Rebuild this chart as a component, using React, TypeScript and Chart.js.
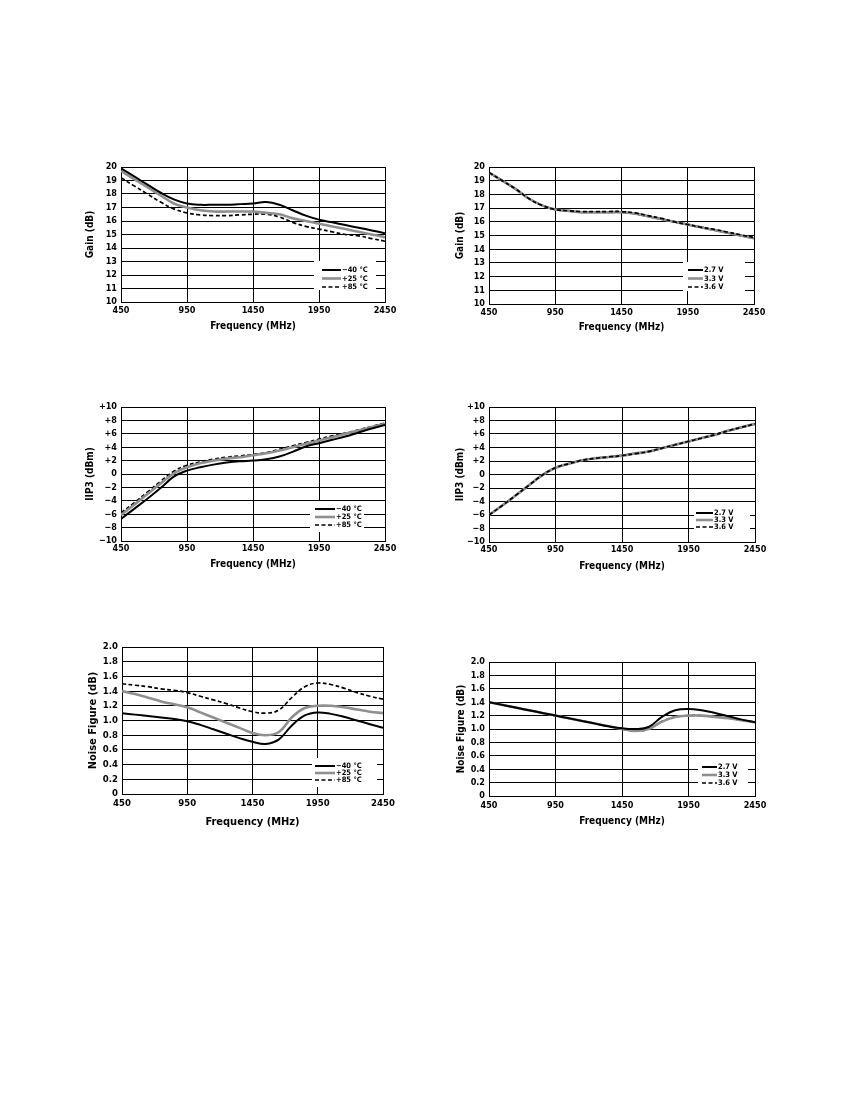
import React, { useEffect, useRef } from "react";
import { Chart, registerables } from "chart.js";

Chart.register(...registerables);

// ---------- data ----------
const FREQ_MHZ = [450, 550, 650, 750, 850, 950, 1050, 1150, 1250, 1350, 1450, 1550, 1650, 1750, 1850, 1950, 2050, 2150, 2250, 2350, 2450];
const FREQ_TICKS = [450, 950, 1450, 1950, 2450];
const GAIN_TICKS = [10, 11, 12, 13, 14, 15, 16, 17, 18, 19, 20];
const IIP3_TICKS = [-10, -8, -6, -4, -2, 0, 2, 4, 6, 8, 10];
const NF_TICKS = [0, 0.2, 0.4, 0.6, 0.8, 1.0, 1.2, 1.4, 1.6, 1.8, 2.0];

const TEMP_LABELS = ["\u221240 \u00B0C", "+25 \u00B0C", "+85 \u00B0C"];
const VOLT_LABELS = ["2.7 V", "3.3 V", "3.6 V"];

const GAIN_TEMP_M40 = [19.9, 19.3, 18.7, 18.1, 17.6, 17.3, 17.2, 17.2, 17.2, 17.25, 17.3, 17.4, 17.2, 16.8, 16.4, 16.1, 15.9, 15.7, 15.5, 15.3, 15.1];
const GAIN_TEMP_P25 = [19.7, 19.1, 18.5, 17.9, 17.3, 17.0, 16.8, 16.7, 16.7, 16.7, 16.7, 16.6, 16.5, 16.2, 16.0, 15.8, 15.6, 15.4, 15.2, 15.0, 14.8];
const GAIN_TEMP_P85 = [19.2, 18.6, 18.0, 17.4, 16.9, 16.6, 16.45, 16.4, 16.4, 16.45, 16.5, 16.5, 16.3, 15.9, 15.6, 15.4, 15.2, 15.0, 14.9, 14.7, 14.5];

const GAIN_VOLT_27 = [19.6, 19.0, 18.4, 17.7, 17.2, 16.9, 16.8, 16.7, 16.7, 16.7, 16.7, 16.6, 16.4, 16.2, 16.0, 15.8, 15.6, 15.4, 15.2, 15.0, 14.8];
const GAIN_VOLT_33 = [19.6, 19.0, 18.4, 17.7, 17.2, 16.9, 16.8, 16.7, 16.7, 16.7, 16.7, 16.6, 16.4, 16.2, 16.0, 15.8, 15.6, 15.4, 15.2, 15.0, 14.8];
const GAIN_VOLT_36 = [19.6, 19.0, 18.4, 17.7, 17.2, 16.9, 16.8, 16.75, 16.75, 16.75, 16.75, 16.65, 16.45, 16.25, 16.0, 15.8, 15.6, 15.45, 15.25, 15.05, 14.85];

const IIP3_TEMP_M40 = [-6.7, -5.2, -3.7, -2.1, -0.4, 0.5, 1.0, 1.4, 1.7, 1.9, 2.0, 2.2, 2.6, 3.3, 4.1, 4.6, 5.1, 5.6, 6.2, 6.8, 7.3];
const IIP3_TEMP_P25 = [-6.1, -4.6, -3.0, -1.4, 0.1, 1.0, 1.6, 2.0, 2.3, 2.5, 2.8, 3.1, 3.5, 4.0, 4.5, 5.0, 5.5, 6.0, 6.5, 7.0, 7.5];
const IIP3_TEMP_P85 = [-5.8, -4.3, -2.7, -1.1, 0.4, 1.3, 1.8, 2.2, 2.5, 2.7, 2.9, 3.2, 3.7, 4.2, 4.7, 5.2, 5.7, 6.1, 6.6, 7.1, 7.6];

const IIP3_VOLT_27 = [-6.0, -4.6, -3.1, -1.6, -0.1, 1.0, 1.6, 2.1, 2.4, 2.6, 2.8, 3.1, 3.4, 3.9, 4.4, 4.9, 5.4, 5.9, 6.5, 7.0, 7.5];
const IIP3_VOLT_33 = [-6.0, -4.6, -3.1, -1.6, -0.1, 1.0, 1.6, 2.1, 2.4, 2.6, 2.8, 3.1, 3.4, 3.9, 4.4, 4.9, 5.4, 5.9, 6.5, 7.0, 7.5];
const IIP3_VOLT_36 = [-6.0, -4.6, -3.1, -1.6, -0.1, 1.0, 1.6, 2.1, 2.4, 2.6, 2.8, 3.1, 3.4, 3.9, 4.4, 4.9, 5.4, 5.9, 6.5, 7.0, 7.5];

const NF_TEMP_M40 = [1.10, 1.08, 1.06, 1.04, 1.02, 0.99, 0.94, 0.88, 0.82, 0.76, 0.71, 0.68, 0.74, 0.93, 1.07, 1.11, 1.09, 1.05, 1.00, 0.95, 0.90];
const NF_TEMP_P25 = [1.40, 1.36, 1.31, 1.26, 1.22, 1.18, 1.11, 1.04, 0.97, 0.90, 0.83, 0.80, 0.84, 1.04, 1.17, 1.20, 1.20, 1.18, 1.15, 1.12, 1.10];
const NF_TEMP_P85 = [1.50, 1.48, 1.46, 1.43, 1.41, 1.38, 1.33, 1.28, 1.23, 1.17, 1.12, 1.10, 1.14, 1.31, 1.46, 1.51, 1.49, 1.44, 1.38, 1.33, 1.29];

const NF_VOLT_27 = [1.40, 1.36, 1.32, 1.28, 1.24, 1.20, 1.16, 1.12, 1.08, 1.04, 1.01, 1.00, 1.03, 1.18, 1.28, 1.30, 1.28, 1.24, 1.19, 1.14, 1.10];
const NF_VOLT_33 = [1.40, 1.36, 1.32, 1.28, 1.24, 1.20, 1.16, 1.12, 1.08, 1.04, 1.00, 0.97, 1.00, 1.11, 1.18, 1.20, 1.20, 1.18, 1.16, 1.13, 1.10];
const NF_VOLT_36 = [1.40, 1.36, 1.32, 1.28, 1.24, 1.20, 1.16, 1.12, 1.08, 1.04, 1.00, 0.97, 1.00, 1.11, 1.18, 1.20, 1.20, 1.18, 1.16, 1.13, 1.10];

// ---------- styling ----------
const FONT_FAMILY = '"Liberation Sans Narrow", "DejaVu Sans Condensed", "Arial Narrow", sans-serif';
const Y_AXIS_W = 50;
const X_AXIS_H = 44;
const PAD_TOP = 12;
const PAD_RIGHT = 24;

type Style = { color: string; width: number; dash: number[] };
const SOLID_BLACK: Style = { color: "#000000", width: 2, dash: [] };
const SOLID_GRAY: Style = { color: "#8f8f8f", width: 2.6, dash: [] };
const DASHED_BLACK: Style = { color: "#000000", width: 1.7, dash: [4, 2.5] };
const STYLES = [SOLID_BLACK, SOLID_GRAY, DASHED_BLACK];

type PanelCfg = {
  L: number; T: number; R: number; B: number;
  yTicks: number[];
  yFmt: (v: number) => string;
  yTitle: string;
  yTitleX: number; xTitleY: number;
  tickSize: number; titleSize: number; xTickPad: number;
  labels: string[];
  series: number[][];
  order: number[];
  legendBox: [number, number, number, number];
  legendLine: [number, number];
  legendRows: number[];
  legendSize: number;
};

const fmtInt = (v: number) => String(v);
const fmtSigned = (v: number) => (v > 0 ? "+" + v : v < 0 ? "\u2212" + Math.abs(v) : "0");
const fmtNF = (v: number) => (Math.abs(v) < 1e-9 ? "0" : v.toFixed(1));

const PANELS: PanelCfg[] = [
  {
    L: 121, T: 167, R: 385, B: 302, yTicks: GAIN_TICKS, yFmt: fmtInt, yTitle: "Gain (dB)",
    yTitleX: 90, xTitleY: 326, tickSize: 9, titleSize: 10, xTickPad: 3,
    labels: TEMP_LABELS, series: [GAIN_TEMP_M40, GAIN_TEMP_P25, GAIN_TEMP_P85], order: [0, 1, 2],
    legendBox: [314, 261, 376, 290], legendLine: [322, 341], legendRows: [270, 278.5, 287], legendSize: 7.5,
  },
  {
    L: 489, T: 167, R: 754, B: 304, yTicks: GAIN_TICKS, yFmt: fmtInt, yTitle: "Gain (dB)",
    yTitleX: 460, xTitleY: 327, tickSize: 9, titleSize: 10, xTickPad: 3,
    labels: VOLT_LABELS, series: [GAIN_VOLT_27, GAIN_VOLT_33, GAIN_VOLT_36], order: [2, 1, 0],
    legendBox: [683, 262, 745, 291], legendLine: [688, 703], legendRows: [270, 278.5, 287], legendSize: 7.5,
  },
  {
    L: 121, T: 407, R: 385, B: 541, yTicks: IIP3_TICKS, yFmt: fmtSigned, yTitle: "IIP3 (dBm)",
    yTitleX: 90, xTitleY: 564, tickSize: 9, titleSize: 10, xTickPad: 2,
    labels: TEMP_LABELS, series: [IIP3_TEMP_M40, IIP3_TEMP_P25, IIP3_TEMP_P85], order: [0, 1, 2],
    legendBox: [310, 501, 364, 532], legendLine: [315, 335], legendRows: [509, 517, 525], legendSize: 7.5,
  },
  {
    L: 489, T: 407, R: 755, B: 542, yTicks: IIP3_TICKS, yFmt: fmtSigned, yTitle: "IIP3 (dBm)",
    yTitleX: 460, xTitleY: 566, tickSize: 9, titleSize: 10, xTickPad: 2,
    labels: VOLT_LABELS, series: [IIP3_VOLT_27, IIP3_VOLT_33, IIP3_VOLT_36], order: [2, 1, 0],
    legendBox: [694, 506, 750, 532], legendLine: [696, 713], legendRows: [513, 520, 527], legendSize: 7.5,
  },
  {
    L: 122, T: 647, R: 383, B: 794, yTicks: NF_TICKS, yFmt: fmtNF, yTitle: "Noise Figure (dB)",
    yTitleX: 93, xTitleY: 822, tickSize: 9.5, titleSize: 11, xTickPad: 4,
    labels: TEMP_LABELS, series: [NF_TEMP_M40, NF_TEMP_P25, NF_TEMP_P85], order: [0, 1, 2],
    legendBox: [312, 758, 377, 787], legendLine: [315, 335], legendRows: [766, 773, 780], legendSize: 7.5,
  },
  {
    L: 489, T: 662, R: 755, B: 796, yTicks: NF_TICKS, yFmt: fmtNF, yTitle: "Noise Figure (dB)",
    yTitleX: 461, xTitleY: 821, tickSize: 9, titleSize: 10, xTickPad: 4,
    labels: VOLT_LABELS, series: [NF_VOLT_27, NF_VOLT_33, NF_VOLT_36], order: [0, 1, 2],
    legendBox: [698, 759, 748, 789], legendLine: [702, 717], legendRows: [767, 775, 783], legendSize: 7.5,
  },
];

const boxLegendPlugin = {
  id: "boxLegend",
  afterDatasetsDraw(chart: any, _args: any, opts: any) {
    const ctx: CanvasRenderingContext2D = chart.ctx;
    ctx.save();
    ctx.fillStyle = "#ffffff";
    ctx.fillRect(opts.box[0], opts.box[1], opts.box[2] - opts.box[0], opts.box[3] - opts.box[1]);
    chart.data.datasets.forEach((ds: any, i: number) => {
      const y = opts.rows[i];
      ctx.strokeStyle = ds.borderColor;
      ctx.lineWidth = ds.borderWidth;
      ctx.setLineDash(ds.borderDash || []);
      ctx.beginPath();
      ctx.moveTo(opts.line[0], y);
      ctx.lineTo(opts.line[1], y);
      ctx.stroke();
      ctx.setLineDash([]);
      ctx.fillStyle = "#000000";
      ctx.font = `bold ${opts.size}px ${FONT_FAMILY}`;
      ctx.textBaseline = "middle";
      ctx.textAlign = "left";
      ctx.fillText(ds.label, opts.line[1] + 1, y + 0.5);
    });
    ctx.restore();
  },
};

function Panel({ cfg }: { cfg: PanelCfg }) {
  const ref = useRef<HTMLCanvasElement | null>(null);
  const cl = cfg.L - Y_AXIS_W;
  const ct = cfg.T - PAD_TOP;
  const cw = cfg.R - cfg.L + Y_AXIS_W + PAD_RIGHT;
  const ch = cfg.B - cfg.T + PAD_TOP + X_AXIS_H;

  useEffect(() => {
    if (!ref.current) return;
    const titleLH = cfg.titleSize * 1.2;
    const yTitlePad = cfg.yTitleX - cl - titleLH / 2;
    const xTitlePad = ct + ch - cfg.xTitleY - titleLH / 2;
    const yMin = cfg.yTicks[0];
    const yMax = cfg.yTicks[cfg.yTicks.length - 1];
    const chart = new Chart(ref.current, {
      type: "line",
      data: {
        datasets: cfg.series.map((vals, i) => ({
          label: cfg.labels[i],
          data: FREQ_MHZ.map((f, k) => ({ x: f, y: vals[k] })),
          borderColor: STYLES[i].color,
          borderWidth: STYLES[i].width,
          borderDash: STYLES[i].dash,
          pointRadius: 0,
          fill: false,
          tension: 0.4,
          order: cfg.order[i],
        })),
      },
      options: {
        animation: false,
        responsive: false,
        maintainAspectRatio: false,
        layout: { padding: { left: 0, top: PAD_TOP, right: PAD_RIGHT, bottom: 0 } },
        plugins: {
          legend: { display: false },
          tooltip: { enabled: false },
          boxLegend: {
            box: [cfg.legendBox[0] - cl, cfg.legendBox[1] - ct, cfg.legendBox[2] - cl, cfg.legendBox[3] - ct],
            line: [cfg.legendLine[0] - cl, cfg.legendLine[1] - cl],
            rows: cfg.legendRows.map((r) => r - ct),
            size: cfg.legendSize,
          },
        } as any,
        scales: {
          x: {
            type: "linear",
            min: FREQ_TICKS[0],
            max: FREQ_TICKS[FREQ_TICKS.length - 1],
            afterBuildTicks: (s: any) => {
              s.ticks = FREQ_TICKS.map((v) => ({ value: v }));
            },
            afterFit: (s: any) => {
              s.height = X_AXIS_H;
            },
            ticks: {
              callback: (v: any) => String(v),
              color: "#000",
              padding: cfg.xTickPad,
              maxRotation: 0,
              autoSkip: false,
              font: { family: FONT_FAMILY, size: cfg.tickSize, weight: "bold" },
            },
            grid: { color: "#000", lineWidth: 1, drawTicks: false },
            border: { color: "#000", width: 1 },
            title: {
              display: true,
              text: "Frequency (MHz)",
              color: "#000",
              padding: { top: 0, bottom: xTitlePad },
              font: { family: FONT_FAMILY, size: cfg.titleSize, weight: "bold" },
            },
          },
          y: {
            type: "linear",
            min: yMin,
            max: yMax,
            afterBuildTicks: (s: any) => {
              s.ticks = cfg.yTicks.map((v) => ({ value: v }));
            },
            afterFit: (s: any) => {
              s.width = Y_AXIS_W;
            },
            ticks: {
              callback: (v: any) => cfg.yFmt(Number(v)),
              color: "#000",
              padding: 4,
              autoSkip: false,
              font: { family: FONT_FAMILY, size: cfg.tickSize, weight: "bold" },
            },
            grid: { color: "#000", lineWidth: 1, drawTicks: false },
            border: { color: "#000", width: 1 },
            title: {
              display: true,
              text: cfg.yTitle,
              color: "#000",
              padding: { top: yTitlePad, bottom: 0 },
              font: { family: FONT_FAMILY, size: cfg.titleSize, weight: "bold" },
            },
          },
        },
      },
      plugins: [boxLegendPlugin],
    } as any);
    return () => chart.destroy();
  }, []);

  return (
    <canvas
      ref={ref}
      width={cw}
      height={ch}
      style={{ position: "absolute", left: cl, top: ct, width: cw, height: ch }}
    />
  );
}

export default function App() {
  return (
    <div style={{ position: "absolute", left: 0, top: 0, width: 850, height: 1100, background: "#ffffff" }}>
      {PANELS.map((p, i) => (
        <Panel key={i} cfg={p} />
      ))}
    </div>
  );
}
